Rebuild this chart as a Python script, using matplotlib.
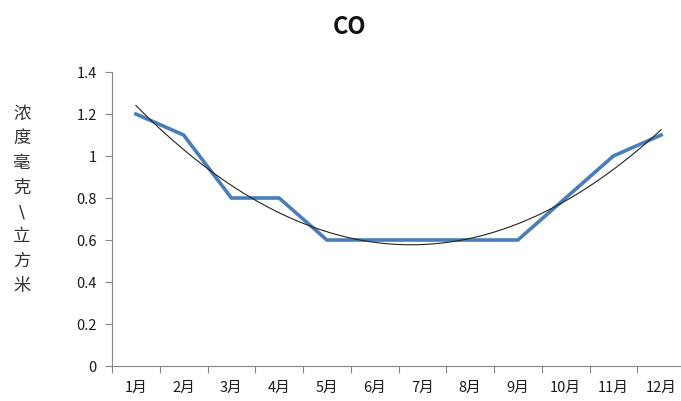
import numpy as np
import matplotlib
matplotlib.use("Agg")
import matplotlib.pyplot as plt

plt.rcParams['font.family'] = ['Noto Sans CJK SC', 'DejaVu Sans']

months = ["1月", "2月", "3月", "4月", "5月", "6月", "7月", "8月", "9月", "10月", "11月", "12月"]
co = [1.2, 1.1, 0.8, 0.8, 0.6, 0.6, 0.6, 0.6, 0.6, 0.8, 1.0, 1.1]
yticks = [0, 0.2, 0.4, 0.6, 0.8, 1.0, 1.2, 1.4]
ytick_labels = ["0", "0.2", "0.4", "0.6", "0.8", "1", "1.2", "1.4"]
title = "CO"
ylabel = "浓度毫克\\立方米"

W, H = 681, 401
fig = plt.figure(figsize=(W / 100, H / 100), dpi=100)
left, right, bottom, top = 112, 685, 366, 72
ax = fig.add_axes([left / W, 1 - bottom / H, (right - left) / W, (bottom - top) / H])

x = np.arange(1, len(co) + 1)
ax.plot(x, co, color="#4a7ebb", lw=2.6, solid_joinstyle="miter", zorder=2)

coef = np.polyfit(x, co, 2)
xs = np.linspace(1, len(co), 200)
ax.plot(xs, np.polyval(coef, xs), color="#222222", lw=0.8, zorder=3)

ax.set_xlim(0.5, len(co) + 0.5)
ax.set_ylim(0, 1.4)
ax.set_yticks(yticks)
ax.set_yticklabels(ytick_labels)
ax.set_xticks(np.arange(0.5, len(co) + 0.5, 1))
ax.set_xticklabels([])
ax.set_xticks(x, minor=True)
ax.set_xticklabels(months, minor=True)
ax.tick_params(axis="x", which="major", length=5, direction="out", color="#868686", width=0.8)
ax.tick_params(axis="x", which="minor", length=0, pad=11, labelsize=10.5, labelcolor="#1a1a1a")
ax.tick_params(axis="y", length=5, direction="out", color="#868686", width=0.8,
               labelsize=10.5, labelcolor="#1a1a1a", pad=6)

for s in ["top", "right"]:
    ax.spines[s].set_visible(False)
for s in ["left", "bottom"]:
    ax.spines[s].set_color("#868686")
    ax.spines[s].set_linewidth(0.8)

fig.text(349 / W, 1 - 27 / H, title, ha="center", va="center", fontsize=17, fontweight="bold",
         color="#111111")

# stacked vertical axis label, one character per line
y0, step = 114, 24.5
for i, ch in enumerate(ylabel):
    fam = ['DejaVu Sans'] if ch == "\\" else ['Noto Sans CJK SC', 'DejaVu Sans']
    fig.text(22 / W, 1 - (y0 + i * step) / H, ch, ha="center", va="center",
             fontsize=12.5, color="#333333", family=fam)

fig.savefig("out.png", dpi=100)
